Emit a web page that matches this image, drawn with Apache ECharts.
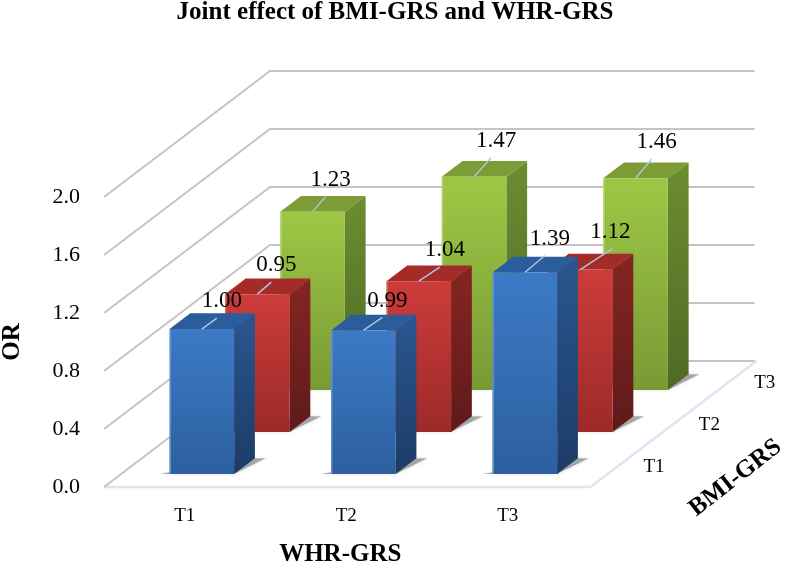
<!DOCTYPE html>
<html>
<head>
<meta charset="utf-8">
<style>html,body{margin:0;padding:0;background:#fff}#c{width:787px;height:562px}</style>
<script src="https://cdn.jsdelivr.net/npm/echarts@6/dist/echarts.min.js"></script>
</head>
<body>
<div id="c"></div>
<script>
// ---- data ----
const whrCategories = ['T1', 'T2', 'T3'];
const bmiCategories = ['T1', 'T2', 'T3'];
const orBmiT1 = [1.00, 0.99, 1.39];
const orBmiT2 = [0.95, 1.04, 1.12];
const orBmiT3 = [1.23, 1.47, 1.46];
const yTicks = [0, 0.4, 0.8, 1.2, 1.6, 2.0];

// ---- projection and style ----
const FONT = '"Liberation Serif", serif';
const DEPTH = [166, -126];           // screen vector of the full floor depth
const ROW_DEPTH = [0.103, 0.437, 0.77];
const BAR_DEPTH = 0.125;
const BAR_FRACTION = 0.4;
const PALETTE = [
  { front: ['#3c7ac6', '#2c609f'], side: ['#2a5690', '#1c3c66'], top: '#2b5c9c', edge: '#7fa6d8' },
  { front: ['#cc3c3a', '#9c2a29'], side: ['#862523', '#5e1a1a'], top: '#a52b29', edge: '#d98583' },
  { front: ['#9ec745', '#789a35'], side: ['#6c8d31', '#4f6a24'], top: '#7d9c35', edge: '#c0dc84' }
];
const LABEL_BASE = [22, -32];
const labelNudge = [
  [[-2, 4], [2, 2], [3, -2]],
  [[-3, 3], [4, 1], [8, -6]],
  [[-4, 0], [0, -4], [-1, -4]]
];
const leaderEndNudge = [
  [0, 0, 0],
  [0, 0, 7],
  [0, 0, 0]
];

function grad(c) {
  return { type: 'linear', x: 0, y: 0, x2: 0, y2: 1, colorStops: [{ offset: 0, color: c[0] }, { offset: 1, color: c[1] }] };
}
function shift(p, d) { return [p[0] + DEPTH[0] * d, p[1] + DEPTH[1] * d]; }

function wallItem(params, api) {
  const v = api.value(0);
  const half = api.size([1, 0])[0] / 2;
  const a = api.coord([0, v]); a[0] -= half;
  const z = api.coord([whrCategories.length - 1, v]); z[0] += half;
  return {
    type: 'polyline',
    shape: { points: [a, shift(a, 1), shift(z, 1)] },
    style: { fill: null, stroke: '#c4c4c4', lineWidth: 2 },
    silent: true
  };
}
function floorItem(params, api) {
  const half = api.size([1, 0])[0] / 2;
  const a = api.coord([0, 0]); a[0] -= half;
  const z = api.coord([whrCategories.length - 1, 0]); z[0] += half + 2;
  return {
    type: 'polyline',
    shape: { points: [a, z, shift(z, 1)] },
    style: { fill: null, stroke: '#dce6f2', lineWidth: 2.5 },
    silent: true
  };
}
function barItem(row) {
  return function (params, api) {
    const base0 = api.coord([api.value(0), 0]);
    const top0 = api.coord([api.value(0), api.value(1)]);
    const w = api.size([1, 0])[0] * BAR_FRACTION;
    const b = shift(base0, ROW_DEPTH[row]);
    const t = shift(top0, ROW_DEPTH[row]);
    const L = b[0] - w / 2, R = b[0] + w / 2, by = b[1], ty = t[1];
    const dx = DEPTH[0] * BAR_DEPTH, dy = DEPTH[1] * BAR_DEPTH;
    const c = PALETTE[row];
    return {
      type: 'group',
      children: [
        { type: 'polygon', silent: true,
          shape: { points: [[L - 10, by], [R, by], [R + dx + 11, by + dy], [R + dx - 10, by + dy]] },
          style: { fill: 'rgba(70,70,70,0.42)', shadowBlur: 4, shadowColor: 'rgba(70,70,70,0.35)' } },
        { type: 'polygon', silent: true,
          shape: { points: [[L, ty], [R, ty], [R + dx, ty + dy], [L + dx, ty + dy]] },
          style: { fill: c.top } },
        { type: 'polygon', silent: true,
          shape: { points: [[R, ty], [R + dx, ty + dy], [R + dx, by + dy], [R, by]] },
          style: { fill: grad(c.side) } },
        { type: 'polygon', silent: true,
          shape: { points: [[L, ty], [R, ty], [R, by], [L, by]] },
          style: { fill: grad(c.front) } },
        { type: 'rect', silent: true,
          shape: { x: L, y: ty, width: 1.5, height: by - ty },
          style: { fill: c.edge, opacity: 0.6 } }
      ]
    };
  };
}
function labelItem(row) {
  return function (params, api) {
    const col = api.value(0), val = api.value(1);
    const t = shift(api.coord([col, val]), ROW_DEPTH[row]);
    const n = labelNudge[row][col];
    const lx = t[0] + LABEL_BASE[0] + n[0], ly = t[1] + LABEL_BASE[1] + n[1];
    return {
      type: 'group',
      children: [
        { type: 'line', silent: true,
          shape: { x1: t[0], y1: t[1], x2: lx - 5 + leaderEndNudge[row][col], y2: ly + 17 },
          style: { stroke: '#a9c6de', lineWidth: 1.5 } },
        { type: 'text', silent: true,
          style: { x: lx, y: ly, text: val.toFixed(2), align: 'center', verticalAlign: 'middle',
                   fill: '#000', font: '23px ' + FONT } }
      ]
    };
  };
}
function depthLabelItem(params, api) {
  const half = api.size([1, 0])[0] / 2;
  const z = api.coord([whrCategories.length - 1, 0]); z[0] += half;
  const p = shift(z, ROW_DEPTH[api.value(0)] + BAR_DEPTH / 2);
  return {
    type: 'text', silent: true,
    style: { x: p[0] + 38, y: p[1] + 1, text: bmiCategories[api.value(0)], align: 'center',
             verticalAlign: 'middle', fill: '#000', font: '19px ' + FONT }
  };
}
function depthNameItem(params, api) {
  const half = api.size([1, 0])[0] / 2;
  const z = api.coord([whrCategories.length - 1, 0]); z[0] += half;
  const p = shift(z, 0.5);
  return {
    type: 'text', silent: true,
    x: p[0] + 64, y: p[1] + 54, rotation: 38 * Math.PI / 180,
    style: { x: 0, y: 0, text: 'BMI-GRS', align: 'center', verticalAlign: 'middle',
             fill: '#000', font: 'bold 25px ' + FONT }
  };
}

const rows = [orBmiT1, orBmiT2, orBmiT3];
const custom = (name, data, renderItem, z) => ({
  type: 'custom', name, data, renderItem, z, clip: false, silent: true,
  coordinateSystem: 'cartesian2d', animation: false
});
const series = [
  custom('floor', [[0, 0]], floorItem, 1),
  custom('wall', yTicks.map(v => [v]), wallItem, 2)
];
[2, 1, 0].forEach(r => {
  series.push(custom('BMI-GRS ' + bmiCategories[r], rows[r].map((v, i) => [i, v]), barItem(r), 10 + (2 - r)));
});
[2, 1, 0].forEach(r => {
  series.push(custom('label ' + bmiCategories[r], rows[r].map((v, i) => [i, v]), labelItem(r), 20));
});
series.push(custom('depth labels', bmiCategories.map((c, i) => [i]), depthLabelItem, 20));
series.push(custom('depth name', [[0]], depthNameItem, 20));

const chart = echarts.init(document.getElementById('c'), null, { renderer: 'canvas' });
chart.setOption({
  animation: false,
  backgroundColor: '#fff',
  title: {
    text: 'Joint effect of BMI-GRS and WHR-GRS',
    left: 390, top: -5, textAlign: 'center',
    textStyle: { fontFamily: FONT, fontWeight: 'bold', fontSize: 25, color: '#000' }
  },
  grid: { left: 104, width: 484.5, top: 197, height: 290, containLabel: false, outerBoundsMode: 'none' },
  xAxis: {
    type: 'category', data: whrCategories,
    axisLine: { show: false }, axisTick: { show: false }, splitLine: { show: false },
    axisLabel: { fontFamily: FONT, fontSize: 19, color: '#000', margin: 20 },
    name: 'WHR-GRS', nameLocation: 'middle', nameGap: 55,
    nameTextStyle: { fontFamily: FONT, fontWeight: 'bold', fontSize: 25, color: '#000', align: 'center', padding: [0, 12, 0, 0] }
  },
  yAxis: {
    type: 'value', min: 0, max: 2, interval: 0.4,
    axisLine: { show: false }, axisTick: { show: false }, splitLine: { show: false },
    axisLabel: { fontFamily: FONT, fontSize: 22, color: '#000', margin: 24,
                 formatter: v => v.toFixed(1) },
    name: 'OR', nameLocation: 'middle', nameGap: 79,
    nameTextStyle: { fontFamily: FONT, fontWeight: 'bold', fontSize: 25, color: '#000' }
  },
  series
});
</script>
</body>
</html>
